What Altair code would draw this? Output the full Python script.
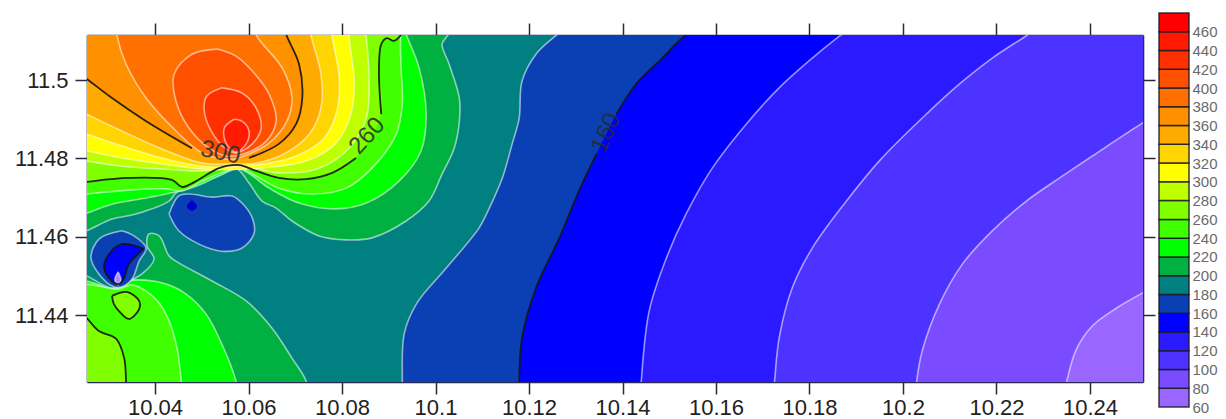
import altair as alt
import pandas as pd

X_DOMAIN = [10.02545, 10.25134]
Y_DOMAIN = [11.4229, 11.5115]
X_TICKS = [10.04, 10.06, 10.08, 10.1, 10.12, 10.14, 10.16, 10.18, 10.2, 10.22, 10.24]
Y_TICKS = [11.44, 11.46, 11.48, 11.5]
LEVELS = [60, 80, 100, 120, 140, 160, 180, 200, 220, 240, 260, 280, 300, 320, 340, 360, 380, 400, 420, 440, 460]
COLORS = ["#9966ff", "#7a4bff", "#4d33ff", "#2b1aff", "#0000ff", "#0a40b4", "#008080", "#00b040", "#00ff00",
          "#40ff00", "#80ff00", "#c0ff00", "#ffff00", "#ffd500", "#ffaa00", "#ff9000", "#ff7000", "#ff5000",
          "#ff3000", "#ff1a00", "#ff0000"]
LIGHT = "#ffffff"
DARK = "#141414"

OUT_ALL = [(10.0, 11.41), (10.0, 11.53), (10.26, 11.53), (10.26, 11.41)]
CL_RIGHT = [(10.26, 11.53), (10.0, 11.53), (10.0, 11.41)]
CL_TOP = [(10.0, 11.53), (10.0, 11.41)]
CL_UP = [(10.0, 11.53), (10.0, 11.46)]
CL_DOWN = [(10.0, 11.44), (10.0, 11.41)]

C80 = [(10.2343, 11.418), (10.2350, 11.4229), (10.2371, 11.4313), (10.2405, 11.4372), (10.2457, 11.4418),
       (10.2512, 11.4456), (10.257, 11.4495)]
C100 = [(10.2024, 11.418), (10.2029, 11.4229), (10.2041, 11.4308), (10.2078, 11.4428), (10.2127, 11.4530),
        (10.2191, 11.4615), (10.2264, 11.4691), (10.2335, 11.4750), (10.2405, 11.4806), (10.2512, 11.4890),
        (10.257, 11.4931)]
C120 = [(10.1720, 11.418), (10.1725, 11.4229), (10.1735, 11.4341), (10.1763, 11.4469), (10.1806, 11.4571),
        (10.1879, 11.4691), (10.1949, 11.4793), (10.2050, 11.4913), (10.2121, 11.4990), (10.2191, 11.5056),
        (10.2266, 11.5115), (10.2302, 11.5146)]
C140 = [(10.1438, 11.418), (10.1440, 11.4229), (10.1457, 11.4410), (10.1494, 11.4546), (10.1536, 11.4658),
        (10.1592, 11.4775), (10.1665, 11.4888), (10.1735, 11.4980), (10.1806, 11.5056), (10.1864, 11.5112),
        (10.1896, 11.5140)]
C160 = [(10.1179, 11.418), (10.1179, 11.4229), (10.1185, 11.4341), (10.1215, 11.4469), (10.1265, 11.4597),
        (10.1307, 11.4717), (10.1344, 11.4811), (10.1387, 11.4913), (10.1429, 11.4990), (10.1479, 11.5049),
        (10.1532, 11.5112), (10.1564, 11.5140)]
C180 = [(10.0929, 11.418), (10.0929, 11.4232), (10.0933, 11.4352), (10.0959, 11.4428), (10.1023, 11.4520),
        (10.1093, 11.4622), (10.1115, 11.4673), (10.1143, 11.4750), (10.1164, 11.4837), (10.1179, 11.4903),
        (10.1185, 11.4997), (10.1215, 11.5066), (10.1256, 11.5112), (10.1286, 11.5140)]
C200_UP = [(10.0216, 11.4599), (10.0254, 11.4615), (10.0308, 11.4645), (10.0359, 11.4658), (10.0430, 11.4691),
           (10.0445, 11.4712), (10.0488, 11.4734), (10.0543, 11.4760), (10.0573, 11.4775), (10.0601, 11.4737),
           (10.0629, 11.4691), (10.0659, 11.4673), (10.0693, 11.4640), (10.0751, 11.4602), (10.0809, 11.4592),
           (10.0864, 11.4597), (10.0937, 11.4640), (10.0986, 11.4691), (10.1014, 11.4760), (10.1040, 11.4826),
           (10.1051, 11.4895), (10.1051, 11.4954), (10.1029, 11.5041), (10.1014, 11.5092), (10.1025, 11.5112),
           (10.1040, 11.5146)]
C200_LOW = [(10.0730, 11.418), (10.0723, 11.4232), (10.0693, 11.4290), (10.0650, 11.4367), (10.0595, 11.4436),
            (10.0522, 11.4487), (10.0451, 11.4533), (10.0430, 11.4551), (10.0409, 11.4602), (10.0387, 11.4607),
            (10.0383, 11.4576), (10.0398, 11.4543), (10.0372, 11.4505), (10.0344, 11.4487), (10.0308, 11.4469),
            (10.0254, 11.4500), (10.0216, 11.4517)]
C220_UP = [(10.0216, 11.4645), (10.0254, 11.4660), (10.0308, 11.4683), (10.0381, 11.4699), (10.0436, 11.4712),
           (10.0488, 11.4729), (10.0537, 11.4755), (10.0580, 11.4773), (10.0644, 11.4724), (10.0708, 11.4686),
           (10.0787, 11.4671), (10.0852, 11.4686), (10.0922, 11.4742), (10.0969, 11.4819), (10.0980, 11.4913),
           (10.0965, 11.5031), (10.0939, 11.5112), (10.0929, 11.5146)]
C220_LOW = [(10.0580, 11.418), (10.0573, 11.4232), (10.0543, 11.4326), (10.0509, 11.4403), (10.0466, 11.4454),
            (10.0424, 11.4479), (10.0381, 11.4489), (10.0344, 11.4487), (10.0329, 11.4474), (10.0308, 11.4466),
            (10.0280, 11.4477), (10.0254, 11.4487), (10.0216, 11.4502)]
C240_UP = [(10.0216, 11.4704), (10.0254, 11.4709), (10.0344, 11.4719), (10.0424, 11.4722), (10.0458, 11.4717),
           (10.0501, 11.4742), (10.0543, 11.4763), (10.0580, 11.4775), (10.0616, 11.4755), (10.0665, 11.4724),
           (10.0736, 11.4709), (10.0809, 11.4724), (10.0864, 11.4775), (10.0916, 11.4862), (10.0929, 11.4939),
           (10.0926, 11.5041), (10.0926, 11.5115), (10.0933, 11.5146)]
C240_LOW = [(10.0460, 11.418), (10.0456, 11.4232), (10.0447, 11.4316), (10.0430, 11.4385), (10.0409, 11.4431),
            (10.0381, 11.4461), (10.0351, 11.4477), (10.0319, 11.4466), (10.0280, 11.4474), (10.0254, 11.4479),
            (10.0216, 11.4484)]
C260_UP = [(10.0216, 11.4734), (10.0254, 11.4740), (10.0344, 11.4750), (10.0436, 11.4745), (10.0458, 11.4727),
           (10.0488, 11.4742), (10.0537, 11.4775), (10.0580, 11.4783), (10.0616, 11.4768), (10.0665, 11.4750),
           (10.0723, 11.4747), (10.0779, 11.4763), (10.0830, 11.4801), (10.0884, 11.4913), (10.0879, 11.5023),
           (10.0884, 11.5092), (10.0896, 11.5107), (10.0911, 11.51), (10.0926, 11.5115), (10.0939, 11.5146)]
C260_LOW = [(10.0216, 11.4436), (10.0254, 11.4392), (10.0280, 11.4359), (10.0317, 11.4339), (10.0334, 11.4290),
            (10.0338, 11.4232), (10.0340, 11.418)]
C260_ISLE = [(10.0308, 11.4449), (10.0340, 11.4459), (10.0366, 11.4436), (10.0366, 11.4415), (10.0344, 11.4390),
             (10.0327, 11.4405), (10.0312, 11.4428), (10.0308, 11.4449)]
C280 = [(10.0216, 11.4798), (10.0254, 11.4793), (10.0329, 11.4780), (10.0415, 11.4773), (10.0501, 11.4768),
        (10.0595, 11.4778), (10.0665, 11.4763), (10.0751, 11.4775), (10.0815, 11.4826), (10.0852, 11.4903),
        (10.0858, 11.4997), (10.0852, 11.5112), (10.0849, 11.5146)]
C300 = [(10.0216, 11.4826), (10.0254, 11.4819), (10.0329, 11.4801), (10.0415, 11.4786), (10.0501, 11.4773),
        (10.0623, 11.4775), (10.0723, 11.4793), (10.0787, 11.4839), (10.0819, 11.4913), (10.0826, 11.4997),
        (10.0815, 11.5112), (10.0815, 11.5146)]
C320 = [(10.0216, 11.4877), (10.0254, 11.4862), (10.0329, 11.4832), (10.0415, 11.4801), (10.0501, 11.4780),
        (10.0616, 11.4783), (10.0702, 11.4806), (10.0762, 11.4852), (10.0789, 11.4921), (10.0794, 11.5005),
        (10.0779, 11.5112), (10.0777, 11.5146)]
C340 = [(10.0216, 11.4936), (10.0254, 11.4913), (10.0329, 11.4870), (10.0415, 11.4824), (10.0501, 11.4788),
        (10.0558, 11.4786), (10.0616, 11.4788), (10.0680, 11.4814), (10.0730, 11.4862), (10.0755, 11.4929),
        (10.0755, 11.5015), (10.0734, 11.5112), (10.0730, 11.5146)]
C360 = [(10.0216, 11.5036), (10.0254, 11.5003), (10.0308, 11.4954), (10.0381, 11.4895), (10.0479, 11.4826),
        (10.0558, 11.4801), (10.0601, 11.4801), (10.0665, 11.4837), (10.0702, 11.4888), (10.0715, 11.4954),
        (10.0708, 11.5041), (10.0682, 11.5112), (10.0672, 11.5146)]
C380 = [(10.0317, 11.5146), (10.0319, 11.5112), (10.0338, 11.5041), (10.0381, 11.4954), (10.0445, 11.4870),
        (10.0501, 11.4814), (10.0565, 11.4798), (10.0601, 11.4811), (10.0644, 11.4839), (10.0682, 11.4895),
        (10.0693, 11.4954), (10.0672, 11.5031), (10.0618, 11.5112), (10.0612, 11.5146)]
C400 = [(10.0533, 11.5079), (10.0479, 11.5066), (10.0441, 11.5015), (10.0445, 11.4946), (10.0473, 11.4877),
        (10.0516, 11.4826), (10.0552, 11.4806), (10.0595, 11.4814), (10.0638, 11.4844), (10.0659, 11.4895),
        (10.0644, 11.4964), (10.0608, 11.5023), (10.0573, 11.5061), (10.0533, 11.5079)]
C420 = [(10.0543, 11.4980), (10.0511, 11.4959), (10.0505, 11.4926), (10.0520, 11.4870), (10.0552, 11.4824),
        (10.0573, 11.4814), (10.0608, 11.4837), (10.0627, 11.4877), (10.0616, 11.4929), (10.0586, 11.4967),
        (10.0543, 11.4980)]
C440 = [(10.0569, 11.4900), (10.0548, 11.4877), (10.0552, 11.4839), (10.0573, 11.4816), (10.0595, 11.4837),
        (10.0601, 11.4870), (10.0586, 11.4895), (10.0569, 11.4900)]
D_OVAL = [(10.0430, 11.4658), (10.0451, 11.4704), (10.0473, 11.4709), (10.0522, 11.4701), (10.0565, 11.4704),
          (10.0586, 11.4686), (10.0608, 11.4648), (10.0612, 11.4609), (10.0586, 11.4571), (10.0543, 11.4563),
          (10.0494, 11.4581), (10.0451, 11.4615), (10.0430, 11.4658)]
D_SPOT = [(10.0479, 11.4694), (10.0490, 11.4678), (10.0479, 11.4666), (10.0468, 11.4678), (10.0479, 11.4694)]
D_LEFT = [(10.0329, 11.4615), (10.0280, 11.4594), (10.0263, 11.4546), (10.0280, 11.4505), (10.0312, 11.4472),
          (10.0329, 11.4472), (10.0351, 11.4492), (10.0366, 11.4538), (10.0381, 11.4571), (10.0355, 11.4602),
          (10.0329, 11.4615)]
D_INNER = [(10.0376, 11.4569), (10.0329, 11.4581), (10.0302, 11.4556), (10.0291, 11.4520), (10.0308, 11.4487),
           (10.0323, 11.4479), (10.0334, 11.4495), (10.0344, 11.4530), (10.0376, 11.4569)]
D_LILAC = [(10.0321, 11.4510), (10.0327, 11.4489), (10.0321, 11.4477), (10.0314, 11.4489), (10.0321, 11.4510)]

NONE = "transparent"
# painter's order: (points, level colour, outline colour)
POLYS = [
    (OUT_ALL, COLORS[0], NONE),
    (C80 + CL_RIGHT, COLORS[1], LIGHT),
    (C100 + CL_RIGHT, COLORS[2], LIGHT),
    (C120 + CL_TOP, COLORS[3], LIGHT),
    (C140 + CL_TOP, COLORS[4], LIGHT),
    (C160 + CL_TOP, COLORS[5], NONE),
    (C180 + CL_TOP, COLORS[6], LIGHT),
    (C200_UP + CL_UP, COLORS[7], LIGHT),
    (C200_LOW + CL_DOWN, COLORS[7], LIGHT),
    (C220_UP + CL_UP, COLORS[8], LIGHT),
    (C220_LOW + CL_DOWN, COLORS[8], LIGHT),
    (C240_UP + CL_UP, COLORS[9], LIGHT),
    (C240_LOW + CL_DOWN, COLORS[9], LIGHT),
    (C260_UP + CL_UP, COLORS[10], NONE),
    (C260_LOW + [(10.0, 11.41), (10.0, 11.45)], COLORS[10], NONE),
    (C260_ISLE, COLORS[10], NONE),
    (C280 + CL_UP, COLORS[11], LIGHT),
    (C300 + CL_UP, COLORS[12], LIGHT),
    (C320 + CL_UP, COLORS[13], LIGHT),
    (C340 + CL_UP, COLORS[14], LIGHT),
    (C360 + CL_UP, COLORS[15], NONE),
    (C380, COLORS[16], LIGHT),
    (C400, COLORS[17], LIGHT),
    (C420, COLORS[18], LIGHT),
    (C440, COLORS[19], LIGHT),
    (D_OVAL, COLORS[5], LIGHT),
    (D_SPOT, "#0000c8", NONE),
    (D_LEFT, COLORS[5], LIGHT),
    (D_INNER, COLORS[4], NONE),
    (D_LILAC, "#a98cff", LIGHT),
]
DARK_LINES = [C160[:7], C160[7:], C260_UP[:13], C260_UP[13:], C260_LOW, C260_ISLE, C360[:5], C360[6:], D_INNER]
LABELS = [("160", 10.1365, 11.4865, 293), ("260", 10.0854, 11.4857, 312), ("300", 10.0540, 11.4814, 12)]

poly_rows = []
for pid, (pts, fill, stroke) in enumerate(POLYS):
    for i, (x, y) in enumerate(pts):
        poly_rows.append({"x": x, "y": y, "pid": pid, "i": i, "fill": fill, "stroke": stroke})
polys = pd.DataFrame(poly_rows)
dark = pd.DataFrame([{"x": x, "y": y, "lid": k, "i": i}
                     for k, seg in enumerate(DARK_LINES) for i, (x, y) in enumerate(seg)])
legend = pd.DataFrame({"low": LEVELS, "high": [v + 20 for v in LEVELS], "color": COLORS, "a": 0, "b": 1})
corners = pd.DataFrame({"x": X_DOMAIN, "y": Y_DOMAIN})

FONT = "Liberation Sans"
X_S = alt.Scale(domain=X_DOMAIN, nice=False, zero=False)
Y_S = alt.Scale(domain=Y_DOMAIN, nice=False, zero=False)

def y_fmt():
    return "datum.value == 11.5 ? '11.5' : format(datum.value, '.2f')"

def x_fmt():
    return "replace(format(datum.value, '.2f'), /0$/, '')"

AX = dict(domainColor="#2a2a55", domainWidth=1.6, tickColor="#2a2a3a", tickWidth=1.5, tickSize=12, grid=False,
          labelFont=FONT, labelFontSize=22, labelColor="#222222", title=None, labelOverlap=False, labelFlush=False)

fills = alt.Chart(polys).mark_line(interpolate="catmull-rom", strokeWidth=1.6, strokeOpacity=0.55,
                                   fillOpacity=1, clip=True).encode(
    x=alt.X("x:Q", scale=X_S, axis=alt.Axis(orient="bottom", values=X_TICKS, labelExpr=x_fmt(), labelPadding=3, **AX)),
    y=alt.Y("y:Q", scale=Y_S, axis=alt.Axis(orient="left", values=Y_TICKS, labelExpr=y_fmt(), labelPadding=7, **AX)),
    detail="pid:N", order="i:Q",
    fill=alt.Fill("fill:N", scale=None), stroke=alt.Stroke("stroke:N", scale=None),
)
lines = alt.Chart(dark).mark_line(interpolate="catmull-rom", color=DARK, strokeWidth=1.8, opacity=0.9, clip=True).encode(
    x=alt.X("x:Q", scale=X_S, axis=None), y=alt.Y("y:Q", scale=Y_S, axis=None), detail="lid:N", order="i:Q",
)
texts = [
    alt.Chart(pd.DataFrame([{"x": x, "y": y, "t": t}])).mark_text(
        font=FONT, fontSize=24, angle=a, color="#2a2a2a", opacity=0.85).encode(
        x=alt.X("x:Q", scale=X_S, axis=None), y=alt.Y("y:Q", scale=Y_S, axis=None), text="t:N")
    for t, x, y, a in LABELS
]
frame = alt.Chart(corners).mark_point(opacity=0).encode(
    x=alt.X("x:Q", scale=X_S, axis=alt.Axis(orient="top", values=X_TICKS, labels=False, **AX)),
    y=alt.Y("y:Q", scale=Y_S, axis=alt.Axis(orient="right", values=Y_TICKS, labels=False, **AX)),
)
bar = alt.Chart(legend).mark_rect(stroke="#1a1a2a", strokeWidth=1.5, strokeOpacity=0.85).encode(
    x=alt.X("a:Q", scale=alt.Scale(domain=[0, 1], range=[1072, 1102]), axis=None),
    x2="b:Q",
    y=alt.Y("low:Q", scale=alt.Scale(domain=[60, 480], range=[372, -22], nice=False, zero=False),
            axis=alt.Axis(orient="right", values=LEVELS, offset=47, domain=False, ticks=False, grid=False, title=None,
                          labelFont=FONT, labelFontSize=15, labelColor="#6a6a6a", labelOverlap=False,
                          labelPadding=2, labelFlush=False)),
    y2="high:Q",
    fill=alt.Fill("color:N", scale=None),
)

chart = (
    alt.layer(fills, lines, *texts, frame, bar)
    .resolve_scale(x="independent", y="independent")
    .properties(width=1056, height=347, padding={"left": 6, "top": 4, "right": 0, "bottom": 0})
    .configure_view(stroke=None)
)
chart.save("out.html", embed_options={"renderer": "svg", "actions": False})
